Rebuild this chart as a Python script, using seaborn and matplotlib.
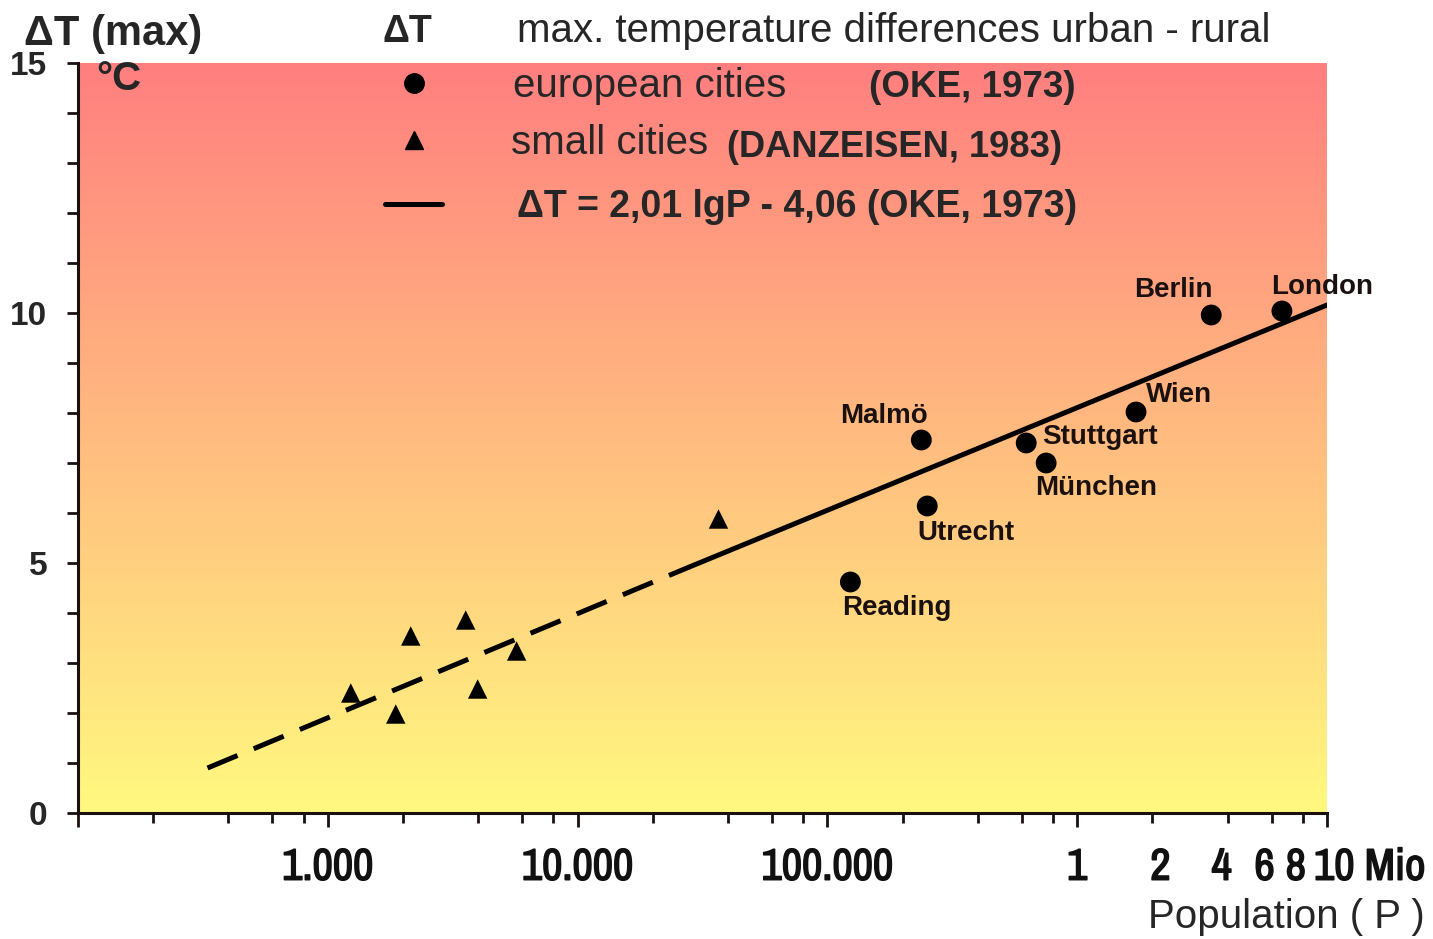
import numpy as np
import pandas as pd
import matplotlib
matplotlib.use("Agg")
import matplotlib.pyplot as plt
import matplotlib.patheffects as pe
import seaborn as sns
from matplotlib.lines import Line2D
from matplotlib import transforms, font_manager

# ---------------- data ----------------
city_names = ["Reading", "Malmö", "Utrecht", "Stuttgart", "München", "Wien", "Berlin", "London"]
city_pop = [123600, 237700, 251000, 625000, 751000, 1720000, 3440000, 6600000]
city_dT = [4.62, 7.46, 6.14, 7.40, 7.00, 8.02, 9.96, 10.04]

small_pop = [1236, 1871, 2148, 3565, 3981, 5700, 36650]
small_dT = [2.40, 1.98, 3.54, 3.86, 2.48, 3.24, 5.88]

# regression line  dT = 2,01 lgP - 4,06  (dashed part / solid part end points)
dash_pop = [330, 28000]
dash_dT = [0.90, 4.92]
solid_pop = [28000, 10000000]
solid_dT = [4.92, 10.16]

x_major = [1e2, 1e3, 1e4, 1e5, 1e6, 1e7]
x_major_labels = ["", "1.000", "10.000", "100.000", "1", "10 Mio"]
x_minor = [k * 10 ** e for e in range(2, 7) for k in (2, 4, 6, 8)]
x_minor_labels = ["" for _ in x_minor[:-4]] + ["2", "4", "6", "8"]
y_major = [0, 5, 10, 15]
y_minor = [v for v in range(16) if v not in y_major]

legend_labels = ["european cities", "small cities", "ΔT = 2,01 lgP - 4,06 (OKE, 1973)"]

# label offsets in pixels (layout, not data)
label_offsets = {"Reading": (-8, -26), "Malmö": (-81, 24), "Utrecht": (-10, -27),
                 "Stuttgart": (16, 6), "München": (-11, -25), "Wien": (10, 17),
                 "Berlin": (-77, 25), "London": (-11, 24)}

# ---------------- style ----------------
sns.set_theme(style="white")
plt.rcParams["font.family"] = ["Liberation Sans", "DejaVu Sans"]
available = {f.name for f in font_manager.fontManager.ttflist}
NARROW = next((f for f in ["Liberation Sans Narrow", "Arial Narrow", "Archivo Narrow",
                           "Roboto Condensed", "Liberation Sans"] if f in available))

W, H = 1433, 939
fig = plt.figure(figsize=(W / 100, H / 100), dpi=100)
renderer = fig.canvas.get_renderer()


def fit_size(s, target_px, family, weight="bold", base=30.0):
    t = fig.text(0, 0, s, fontsize=base, fontweight=weight, family=[family, "DejaVu Sans"])
    w = t.get_window_extent(renderer).width
    t.remove()
    return base * target_px / w


ax = fig.add_axes([78 / W, 1 - 813 / H, 1249 / W, 750 / H])
ax.set_xscale("log")
ax.set_xlim(1e2, 1e7)
ax.set_ylim(0, 15)

# background gradient (red top -> yellow bottom)
top = np.array([255, 127, 127]) / 255
bot = np.array([255, 249, 128]) / 255
t = np.linspace(0, 1, 256)[:, None]
grad = (top * (1 - t) + bot * t)[:, None, :]
ax.imshow(grad, extent=[0, 1, 0, 1], transform=ax.transAxes, aspect="auto",
          zorder=0, interpolation="bilinear")
ax.set_xlim(1e2, 1e7)
ax.set_ylim(0, 15)

# lines
df_dash = pd.DataFrame({"P": dash_pop, "dT": dash_dT})
df_solid = pd.DataFrame({"P": solid_pop, "dT": solid_dT})
sns.lineplot(data=df_dash, x="P", y="dT", ax=ax, color="black", lw=3.6,
             linestyle=(0, (6.5, 3.5)), zorder=3, legend=False)
sns.lineplot(data=df_solid, x="P", y="dT", ax=ax, color="black", lw=3.6,
             zorder=3, legend=False)

# points
df_city = pd.DataFrame({"P": city_pop, "dT": city_dT, "name": city_names})
df_small = pd.DataFrame({"P": small_pop, "dT": small_dT})
sns.scatterplot(data=df_city, x="P", y="dT", ax=ax, marker="o", s=15 ** 2,
                color="black", edgecolor="none", legend=False, zorder=4)
sns.scatterplot(data=df_small, x="P", y="dT", ax=ax, marker="^", s=14 ** 2,
                color="black", edgecolor="none", legend=False, zorder=4)

for name, p, d in zip(city_names, city_pop, city_dT):
    dx, dy = label_offsets[name]
    ax.annotate(name, xy=(p, d), xytext=(dx, dy), textcoords="offset pixels",
                ha="left", va="center", fontsize=20, fontweight="bold",
                color="#1a1010", zorder=5)

# axes / ticks
ax.set_xlabel("")
ax.set_ylabel("")
for s in ("top", "right"):
    ax.spines[s].set_visible(False)
for s in ("left", "bottom"):
    ax.spines[s].set_linewidth(2.2)
    ax.spines[s].set_color("#1a1010")
    ax.spines[s].set_zorder(6)

xt_size = fit_size("100.000", 131, NARROW)
ax.set_xticks(x_major, x_major_labels)
ax.set_xticks(x_minor, x_minor_labels, minor=True)
ax.set_yticks(y_major, [str(v) for v in y_major])
ax.set_yticks(y_minor, minor=True)
ax.tick_params(axis="x", which="major", bottom=True, direction="out", length=10,
               width=2, pad=15, labelsize=xt_size, color="#1a1010",
               labelfontfamily=NARROW)
ax.tick_params(axis="x", which="minor", bottom=True, direction="out", length=7,
               width=2, pad=18, labelsize=xt_size, color="#1a1010",
               labelfontfamily=NARROW)
ax.tick_params(axis="y", which="both", left=True, direction="out", length=8,
               width=2, pad=14, labelsize=24, color="#1a1010")
for lab in ax.get_xticklabels(which="both"):
    lab.set_fontweight("bold")
    lab.set_color("#111111")
    lab.set_path_effects([pe.withStroke(linewidth=1.1, foreground="#111111")])
for lab in ax.get_yticklabels():
    lab.set_fontweight("bold")

# nudge crowded labels of the last decade
minor_labs = ax.get_xticklabels(minor=True)
for lab, dx in zip(minor_labs[-4:], (8, -6, -7, -7)):
    lab.set_transform(lab.get_transform() + transforms.ScaledTranslation(dx / 100, 0, fig.dpi_scale_trans))
last = ax.get_xticklabels()[-1]
last.set_ha("left")
last.set_transform(last.get_transform() + transforms.ScaledTranslation(-13 / 100, 0, fig.dpi_scale_trans))

# legend: one entry per row (rows are not evenly spaced in the original)
handles = [Line2D([], [], marker="o", ls="", color="black", ms=14),
           Line2D([], [], marker="^", ls="", color="black", ms=13),
           Line2D([], [], color="black", lw=3.6)]
row_y = [86, 143, 207]
row_fs = [29, 29, 27]
row_text_x = [513, 511, 517]
for i, (h, lab, yc, fs, tx) in enumerate(zip(handles, legend_labels, row_y, row_fs, row_text_x)):
    fs_px = fs * 100 / 72
    leg = fig.legend([h], [lab], loc="center left", bbox_to_anchor=(385 / W, 1 - yc / H),
                     bbox_transform=fig.transFigure, frameon=False, borderpad=0,
                     borderaxespad=0, handlelength=57 / fs_px,
                     handletextpad=(tx - 442) / fs_px, fontsize=fs)
    if i == 2:
        leg.get_texts()[0].set_fontweight("bold")

# texts
fig.text(24 / W, 1 - 45 / H, "ΔT (max)", fontsize=30, fontweight="bold", va="baseline")
fig.text(96 / W, 1 - 90 / H, "°C", fontsize=29, fontweight="bold", va="baseline")
fig.text(383 / W, 1 - 42 / H, "ΔT", fontsize=27, fontweight="bold", va="baseline")
fig.text(517 / W, 1 - 42 / H, "max. temperature differences urban - rural", fontsize=29, va="baseline")
fig.text(869 / W, 1 - 97 / H, "(OKE, 1973)", fontsize=26.5, fontweight="bold", va="baseline")
fig.text(727 / W, 1 - 157 / H, "(DANZEISEN, 1983)", fontsize=26.2, fontweight="bold", va="baseline")
fig.text(1425 / W, 1 - 928 / H, "Population ( P )", fontsize=29, ha="right", va="baseline")

fig.savefig("out.png", dpi=100)
